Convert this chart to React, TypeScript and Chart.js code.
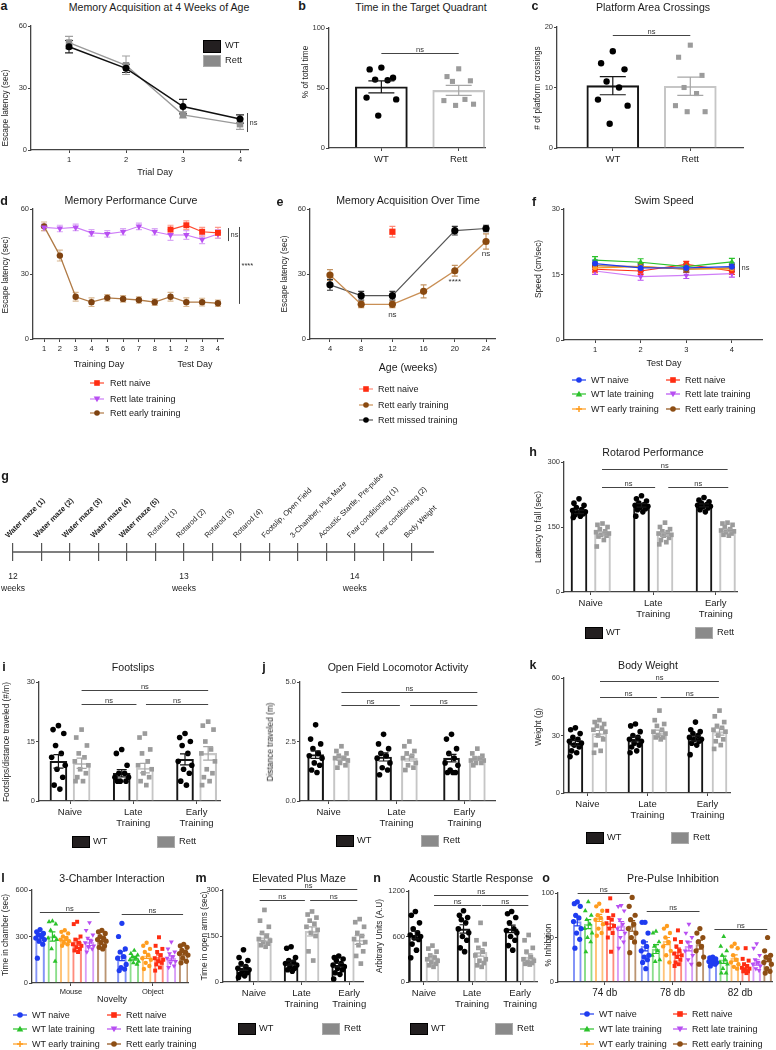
import React, { useEffect, useRef } from 'react';
import { Chart, registerables } from 'chart.js';

Chart.register(...registerables);

const FONT = '"Liberation Sans", Arial, Helvetica, sans-serif';

/* ======================= DATA ======================= */
// (a) Memory acquisition at 4 weeks
const aDays = [1, 2, 3, 4];
const aWT = [50, 39.5, 21, 15];
const aWTErr = [3, 2, 3.5, 2];
const aRett = [52, 41, 17, 12.5];
const aRettErr = [3, 4.5, 1.5, 2.5];

// (b) Time in target quadrant
const bLabels = ['WT', 'Rett'];
const bMeans = [51, 48];
const bSems = [5, 4.2];
const bWTPts = [67, 65.5, 58.5, 57, 56.5, 42, 40.5, 27];
const bRettPts = [66, 59.5, 56, 55.5, 40.5, 39.5, 36.5, 35.5];

// (c) Platform crossings
const cLabels = ['WT', 'Rett'];
const cMeans = [10.3, 10.2];
const cSems = [1.5, 1.5];
const cWTPts = [16, 14, 13, 11, 10, 8, 7, 4];
const cRettPts = [17, 15, 12, 10, 9, 7, 6, 6];

// (d) Memory performance curve
const dDays = [1, 2, 3, 4, 5, 6, 7, 8, 9, 10, 11, 12];
const dDayLabels = ['1', '2', '3', '4', '5', '6', '7', '8', '1', '2', '3', '4'];
const dNaive = [null, null, null, null, null, null, null, null, 50.5, 52.5, 49.5, 49];
const dNaiveErr = [0, 0, 0, 0, 0, 0, 0, 0, 2, 2, 2, 2.5];
const dLate = [51.5, 51, 51.5, 49, 48.5, 49.5, 52, 49.5, 48, 48, 46, 48.5];
const dLateErr = [1.5, 1.5, 1.5, 1.5, 1.5, 1.5, 1.5, 1.5, 2.5, 2, 2, 2];
const dEarly = [52, 38.5, 19.5, 17, 19, 18.5, 18, 17, 19.5, 17, 17, 16.5];
const dEarlyErr = [2, 2.5, 2, 2, 1.5, 1.5, 1.5, 1.5, 2, 2, 1.8, 1.5];

// (e) Memory acquisition over time
const eWeeks = [4, 8, 12, 16, 20, 24];
const eNaive = [null, null, 49.5, null, null, null];
const eNaiveErr = [0, 0, 2.5, 0, 0, 0];
const eEarly = [29.5, 16, 16, 22, 31.5, 45];
const eEarlyErr = [2.5, 1.5, 1.5, 3, 2.5, 3.5];
const eMissed = [25, 20, 20, null, 50, 51];
const eMissedErr = [2.5, 2, 2, 0, 2, 1.5];

// (f) Swim speed
const fDays = [1, 2, 3, 4];
const fWTNaive = [17.5, 16.5, 16.5, 16.8];
const fWTLate = [18.3, 17.8, 16.8, 17.9];
const fWTEarly = [16.5, 16.8, 16.3, 16.3];
const fRettNaive = [16.2, 15.8, 17.3, 15.8];
const fRettLate = [15.8, 14.5, 14.8, 15.2];
const fRettEarly = [17, 16.8, 16.2, 16.5];
const fErr = [0.8, 0.8, 0.7, 0.8];

// (g) Timeline
const gEvents = [
  'Water maze (1)', 'Water maze (2)', 'Water maze (3)', 'Water maze (4)', 'Water maze (5)',
  'Rotarod (1)', 'Rotarod (2)', 'Rotarod (3)', 'Rotarod (4)', 'Footslip, Open Field',
  '3-Chamber, Plus Maze', 'Acoustic Startle, Pre-pulse', 'Fear conditioning (1)',
  'Fear conditioning (2)', 'Body Weight',
];
const gWeekTicks = [0, 6, 12];
const gWeekLabels = [['12', 'weeks'], ['13', 'weeks'], ['14', 'weeks']];

// groups for WT/Rett bar panels
const trainGroups = [['Naive'], ['Late', 'Training'], ['Early', 'Training']];

// (h) Rotarod
const hWTMeans = [185, 200, 200];
const hWTSems = [4, 4, 3.5];
const hRettMeans = [135, 133, 142];
const hRettSems = [4, 4.5, 3];
const hWTPts = [
  [215, 205, 200, 195, 190, 188, 185, 183, 180, 178, 175, 172],
  [222, 215, 210, 205, 202, 200, 198, 195, 192, 190, 185, 175],
  [218, 212, 208, 205, 202, 200, 198, 196, 194, 190, 185],
];
const hRettPts = [
  [158, 155, 150, 145, 140, 138, 135, 132, 130, 128, 120, 105],
  [160, 150, 145, 140, 138, 135, 132, 130, 125, 120, 115, 110],
  [160, 158, 155, 150, 145, 142, 140, 138, 135, 132, 130],
];

// (i) Footslips
const iWTMeans = [10, 7, 10.5];
const iWTSems = [1.7, 0.9, 1.4];
const iRettMeans = [9.5, 8.3, 12];
const iRettSems = [1.3, 1.2, 1.7];
const iWTPts = [
  [19, 18, 17, 14, 12, 11, 9, 8, 6, 4, 3],
  [13, 12, 9, 7, 7, 6, 6, 5, 5, 5],
  [17, 16, 15, 14, 12, 10, 9, 8, 7, 5, 4],
];
const iRettPts = [
  [18, 16, 14, 12, 11, 10, 9, 8, 7, 6, 5, 5],
  [17, 16, 13, 12, 10, 9, 8, 7, 6, 5, 4],
  [20, 19, 18, 15, 13, 12, 10, 8, 7, 6, 5, 4],
];

// (j) Open field
const jWTMeans = [1.95, 1.85, 1.8];
const jWTSems = [0.16, 0.17, 0.16];
const jRettMeans = [1.8, 1.8, 1.78];
const jRettSems = [0.09, 0.12, 0.07];
const jWTPts = [
  [3.2, 2.6, 2.4, 2.2, 2.0, 1.9, 1.8, 1.6, 1.5, 1.3, 1.2],
  [2.8, 2.4, 2.2, 2.0, 1.9, 1.8, 1.6, 1.4, 1.3, 1.1],
  [2.8, 2.6, 2.2, 2.0, 1.8, 1.6, 1.5, 1.3, 1.2, 1.2, 1.2],
];
const jRettPts = [
  [2.3, 2.1, 2.0, 1.9, 1.8, 1.8, 1.7, 1.6, 1.5, 1.4],
  [2.5, 2.3, 2.1, 2.0, 1.9, 1.8, 1.6, 1.5, 1.4, 1.3],
  [2.2, 2.0, 1.9, 1.8, 1.8, 1.7, 1.7, 1.6, 1.6, 1.5],
];

// (k) Body weight
const kWTMeans = [26, 28, 28.5];
const kWTSems = [1.3, 1.3, 1.3];
const kRettMeans = [31, 31.5, 32];
const kRettSems = [1.6, 1.3, 1.8];
const kWTPts = [
  [34, 33, 31, 29, 28, 27, 26, 25, 24, 22, 21, 19],
  [36, 35, 32, 30, 29, 28, 27, 26, 25, 24, 22, 21],
  [37, 33, 32, 31, 30, 29, 28, 28, 27, 26, 25, 20],
];
const kRettPts = [
  [38, 37, 36, 35, 34, 33, 32, 30, 28, 25, 22, 21],
  [43, 38, 36, 35, 33, 32, 31, 30, 29, 29, 28],
  [43, 40, 37, 35, 34, 33, 32, 30, 28, 27, 25, 23],
];

// six-group series (l, o)
const sixNames = ['WT naive', 'WT late training', 'WT early training', 'Rett naive', 'Rett late training', 'Rett early training'];

// (l) 3-chamber: per series [Mouse, Object]
const lGroups = ['Mouse', 'Object'];
const lMeans = [[290, 175], [300, 160], [285, 175], [265, 165], [262, 160], [280, 192]];
const lSems = [[30, 30], [30, 12], [12, 17], [20, 17], [20, 15], [12, 12]];
const lPts = [
  [[345, 330, 320, 310, 300, 290, 280, 270, 250, 160], [385, 300, 220, 200, 170, 160, 120, 100, 90, 80]],
  [[400, 395, 380, 340, 300, 290, 280, 220, 140], [210, 190, 180, 170, 160, 150, 140, 130, 120]],
  [[340, 330, 320, 300, 290, 280, 270, 260, 250, 240], [260, 240, 220, 200, 180, 160, 150, 130, 110, 90]],
  [[395, 380, 300, 280, 260, 250, 240, 230, 220, 210, 200], [295, 240, 220, 200, 180, 160, 150, 140, 130, 120, 100, 80]],
  [[390, 340, 310, 290, 270, 260, 240, 230, 220, 200], [265, 220, 200, 190, 170, 160, 140, 130, 110, 100]],
  [[340, 330, 320, 300, 290, 280, 270, 260, 240, 230, 220], [250, 240, 230, 210, 200, 190, 180, 160, 140, 130]],
];

// (m) Elevated plus maze
const mWTMeans = [45, 62, 55];
const mWTSems = [7, 7, 6];
const mRettMeans = [145, 165, 137];
const mRettSems = [12, 15, 14];
const mWTPts = [
  [105, 80, 70, 60, 50, 45, 40, 35, 30, 25, 20, 15],
  [115, 110, 80, 70, 65, 60, 55, 50, 45, 40, 35],
  [85, 80, 75, 70, 60, 55, 50, 45, 40, 30, 25, 10],
];
const mRettPts = [
  [235, 200, 180, 160, 150, 140, 135, 130, 125, 120, 115],
  [230, 220, 210, 200, 190, 180, 170, 160, 150, 100, 70],
  [205, 195, 180, 160, 150, 140, 130, 120, 100, 85, 60],
];

// (n) Acoustic startle
const nWTMeans = [620, 700, 700];
const nWTSems = [50, 55, 50];
const nRettMeans = [320, 390, 330];
const nRettSems = [30, 50, 40];
const nWTPts = [
  [930, 880, 780, 700, 650, 620, 600, 580, 560, 500, 420, 320],
  [940, 880, 850, 820, 780, 700, 650, 600, 550, 450, 400],
  [930, 900, 850, 780, 700, 680, 650, 600, 550, 480, 420],
];
const nRettPts = [
  [480, 440, 400, 350, 320, 300, 280, 260, 240, 220, 200],
  [780, 550, 500, 450, 400, 350, 300, 280, 250, 220, 200],
  [620, 550, 450, 400, 330, 300, 280, 260, 250, 240, 230],
];

// (o) Pre-pulse inhibition: per series [74 db, 78 db, 82 db]
const oGroups = ['74 db', '78 db', '82 db'];
const oMeans = [[68, 40, 23], [65, 37, 25], [72, 46, 27], [66, 34, 17], [63, 40, 22], [63, 42, 26]];
const oSems = [[5, 5, 1.5], [5, 5, 4], [4, 4, 3.5], [5, 4, 2.5], [5, 5, 3], [6, 5, 3]];
const oPts = [
  [[90, 88, 85, 75, 72, 68, 60, 55, 48, 38], [67, 67, 55, 45, 40, 35, 30, 28, 25, 22, 15], [28, 27, 26, 25, 24, 23, 22, 21, 20, 18]],
  [[90, 80, 75, 70, 65, 60, 55, 50, 45, 34], [57, 55, 45, 40, 35, 30, 25, 23], [51, 40, 35, 30, 25, 22, 20, 15, 10, 10]],
  [[88, 85, 80, 75, 72, 70, 65, 60, 55, 52], [63, 60, 55, 50, 45, 40, 35, 30, 22], [43, 40, 38, 30, 25, 22, 20, 17, 15]],
  [[94, 80, 75, 72, 70, 66, 63, 60, 55, 50, 34], [58, 48, 45, 40, 35, 32, 30, 28, 25, 22, 20, 18], [38, 26, 24, 20, 18, 16, 15, 14, 12, 12, 10]],
  [[86, 85, 80, 70, 65, 60, 55, 50, 45, 38], [65, 55, 50, 45, 40, 35, 30, 25, 20], [43, 38, 30, 25, 22, 20, 18, 15, 13]],
  [[95, 85, 75, 70, 65, 60, 55, 50, 45, 33], [60, 55, 50, 45, 40, 35, 28, 20], [50, 35, 30, 28, 25, 22, 20, 15, 12, 10]],
];

/* ======================= STYLE ======================= */
const WTN_C = '#1f3cf0';
const WTL_C = '#2bc22b';
const WTE_C = '#ff9d1f';
const RN_C = '#ff2d12';
const RL_C = '#b84ff2';
const RE_C = '#8d4e14';
const SIX_COLORS = [WTN_C, WTL_C, WTE_C, RN_C, RL_C, RE_C];
const SIX_LIGHT = ['rgba(31,60,240,0.55)', 'rgba(43,194,43,0.55)', 'rgba(255,157,31,0.6)', 'rgba(255,45,18,0.55)', 'rgba(184,79,242,0.55)', 'rgba(141,78,20,0.6)'];
const SIX_STYLE = ['circle', 'triangle', 'circle', 'rect', 'triangle', 'circle'];
const SIX_ROT = [0, 0, 0, 0, 180, 0];
const SIX_R = [2.6, 2.8, 2.2, 2.8, 2.8, 2.6];
const SIX_KEY = ['circle', 'tri', 'plus', 'rect', 'triDown', 'circle'];

const JIT = [0, -0.75, 0.75, -0.4, 0.4, -0.95, 0.95, -0.2, 0.6, -0.6, 0.2, -0.85, 0.85, 0.1];

/* ======================= PLUGINS ======================= */
function drawErr(chart: any, before: boolean) {
  const { ctx } = chart;
  const ys = chart.scales.y;
  chart.data.datasets.forEach((ds: any, di: number) => {
    if (!ds.errs || !!ds.errBefore !== before) return;
    const meta = chart.getDatasetMeta(di);
    meta.data.forEach((el: any, i: number) => {
      const raw = ds.data[i];
      const v = raw && typeof raw === 'object' ? raw.y : raw;
      const e = ds.errs[i];
      if (v == null || !e) return;
      const px = el.x;
      const y1 = ys.getPixelForValue(v + e);
      const y2 = ys.getPixelForValue(v - e);
      const c = ds.capPx || 3;
      ctx.save();
      ctx.strokeStyle = ds.errColor || '#000';
      ctx.lineWidth = ds.errWidth || 1.1;
      ctx.beginPath();
      ctx.moveTo(px, y1); ctx.lineTo(px, y2);
      ctx.moveTo(px - c, y1); ctx.lineTo(px + c, y1);
      ctx.moveTo(px - c, y2); ctx.lineTo(px + c, y2);
      ctx.stroke();
      ctx.restore();
    });
  });
}
const errPlugin = {
  id: 'errbars',
  beforeDatasetsDraw(chart: any) { drawErr(chart, true); },
  afterDatasetsDraw(chart: any) { drawErr(chart, false); },
};

function marksPlugin(h: any[] = [], v: any[] = [], notes: any[] = [], fs = 7.5) {
  return {
    id: 'marks',
    afterDatasetsDraw(chart: any) {
      const { ctx } = chart;
      const xs = chart.scales.x;
      const ys = chart.scales.y;
      ctx.save();
      ctx.strokeStyle = '#444';
      ctx.fillStyle = '#333';
      ctx.lineWidth = 1;
      ctx.font = `${fs}px ${FONT}`;
      h.forEach((b) => {
        const X1 = xs.getPixelForValue(b.x1);
        const X2 = xs.getPixelForValue(b.x2);
        const Y = Math.round(ys.getPixelForValue(b.y)) + 0.5;
        ctx.beginPath(); ctx.moveTo(X1, Y); ctx.lineTo(X2, Y); ctx.stroke();
        ctx.textAlign = 'center'; ctx.textBaseline = 'alphabetic';
        ctx.fillText(b.t, (X1 + X2) / 2, Y - 2);
      });
      v.forEach((b) => {
        const X = Math.round(xs.getPixelForValue(b.x)) + 0.5;
        const Y1 = ys.getPixelForValue(b.y1);
        const Y2 = ys.getPixelForValue(b.y2);
        ctx.beginPath(); ctx.moveTo(X, Y1); ctx.lineTo(X, Y2); ctx.stroke();
        ctx.textAlign = 'left'; ctx.textBaseline = 'middle';
        ctx.fillText(b.t, X + 2, (Y1 + Y2) / 2);
      });
      notes.forEach((n) => {
        ctx.textAlign = 'center'; ctx.textBaseline = 'middle';
        ctx.fillText(n.t, xs.getPixelForValue(n.x), ys.getPixelForValue(n.y));
      });
      ctx.restore();
    },
  };
}

/* ======================= AXES ======================= */
function yAxis(min: number, max: number, ticks: number[], fmt?: (v: number) => string) {
  return {
    type: 'linear', min, max,
    afterBuildTicks: (s: any) => { s.ticks = ticks.map((v) => ({ value: v })); },
    ticks: { font: { family: FONT, size: 7.5 }, color: '#333', padding: 1, callback: (v: number) => (fmt ? fmt(v) : String(v)) },
    grid: { display: true, drawOnChartArea: false, drawTicks: true, tickLength: 3, color: '#444', lineWidth: 1 },
    border: { display: true, color: '#444', width: 1.3 },
  };
}
function xAxis(min: number, max: number, tickVals: number[], labels: any[], size = 7.5, pad = 2) {
  return {
    type: 'linear', min, max, offset: false,
    afterBuildTicks: (s: any) => { s.ticks = tickVals.map((v) => ({ value: v })); },
    ticks: { autoSkip: false, maxRotation: 0, minRotation: 0, font: { family: FONT, size, lineHeight: 1.25 }, color: '#222', padding: pad, callback: (_v: number, i: number) => labels[i] },
    grid: { display: true, offset: false, drawOnChartArea: false, drawTicks: true, tickLength: 3, color: '#444', lineWidth: 1 },
    border: { display: true, color: '#444', width: 1.3 },
  };
}

/* ======================= DATASET BUILDERS ======================= */
function lineDs(xs: number[], ys: any[], errs: number[], o: any) {
  return {
    type: 'line',
    data: xs.map((x, i) => ({ x, y: ys[i] })).filter((p) => !(o.dropNull && p.y == null)),
    errs: o.dropNull ? errs.filter((_e, i) => ys[i] != null) : errs,
    borderColor: o.line, backgroundColor: o.pt, pointBackgroundColor: o.pt, pointBorderColor: o.pt,
    borderWidth: o.lw ?? 1.4, pointStyle: o.style, pointRadius: o.r, pointRotation: o.rot || 0, pointBorderWidth: 0,
    errColor: o.err, capPx: o.cap ?? 3, errBefore: true, clip: false, spanGaps: !!o.span, tension: 0, order: o.order ?? 1,
  };
}

function barScatter(series: any[], th: number, ppu: number, cap: number) {
  const out: any[] = [];
  series.forEach((s) => {
    out.push({
      type: 'bar',
      data: s.means.map((m: number, g: number) => ({ x: g + s.off, y: m })),
      barThickness: th, grouped: false, backgroundColor: 'rgba(255,255,255,0)',
      borderColor: s.line, borderWidth: 1.4, borderSkipped: 'bottom',
      errs: s.sems, errColor: s.err, capPx: cap, errWidth: 1.2, order: 5,
    });
    out.push({
      type: 'scatter',
      data: s.pts.flatMap((arr: number[], g: number) => arr.map((v, i) => ({ x: g + s.off + (JIT[i % JIT.length] * th * (s.spread ?? 0.42)) / ppu, y: v }))),
      pointStyle: s.style, pointRadius: s.r, pointRotation: s.rot || 0,
      backgroundColor: s.pt, borderColor: s.pt, pointBorderWidth: 0, borderWidth: 0, showLine: false, order: 1, clip: false,
    });
  });
  return out;
}

function wtRett(wM: number[], wS: number[], wP: number[][], rM: number[], rS: number[], rP: number[][], off: number) {
  return [
    { means: wM, sems: wS, pts: wP, off: -off, line: '#161616', err: '#161616', pt: '#000', style: 'circle', r: 2.8 },
    { means: rM, sems: rS, pts: rP, off, line: '#c6c6c6', err: '#a6a6a6', pt: '#9b9b9b', style: 'rect', r: 3.3 },
  ];
}

function six(means: number[][], sems: number[][], pts: number[][][], step: number) {
  return means.map((m, k) => ({
    means: m, sems: sems[k], pts: pts[k], off: (k - 2.5) * step,
    line: SIX_LIGHT[k], err: SIX_COLORS[k], pt: SIX_COLORS[k], style: SIX_STYLE[k], rot: SIX_ROT[k], r: SIX_R[k], spread: 0.5,
  }));
}

/* ======================= CHART PANEL ======================= */
function ChartPanel(p: any) {
  const ref = useRef<HTMLCanvasElement>(null);
  const padL = p.padL ?? 40;
  const padR = p.padR ?? 40;
  const padT = p.padT ?? 14;
  const padB = p.padB ?? 32;
  const w = Math.round(p.x1 - p.x0 + padL + padR);
  const h = Math.round(p.yBot - p.yTop + padT + padB);
  useEffect(() => {
    const cfg = p.build((p.x1 - p.x0));
    cfg.scales.x.afterFit = (s: any) => { s.height = padB; };
    cfg.scales.y.afterFit = (s: any) => { s.width = padL; };
    const chart = new Chart(ref.current as HTMLCanvasElement, {
      type: cfg.type,
      data: { datasets: cfg.datasets },
      options: {
        responsive: false, maintainAspectRatio: false, animation: false, events: [],
        layout: { padding: { top: padT, right: padR, left: 0, bottom: 0 } },
        plugins: { legend: { display: false }, tooltip: { enabled: false }, title: { display: false } },
        scales: cfg.scales,
      },
      plugins: cfg.plugins,
    } as any);
    return () => chart.destroy();
  }, []);
  return (
    <canvas ref={ref} width={w} height={h}
      style={{ position: 'absolute', left: p.x0 - padL, top: p.yTop - padT, width: w, height: h }} />
  );
}

function TimelinePanel() {
  const ref = useRef<HTMLCanvasElement>(null);
  const W = 520, H = 128, TOP = 463;
  useEffect(() => {
    const chart = new Chart(ref.current as HTMLCanvasElement, {
      type: 'line',
      data: { datasets: [{ data: [{ x: 0, y: 0 }, { x: 14.78, y: 0 }], borderColor: '#555', borderWidth: 1.4, pointRadius: 0, clip: false }] },
      options: {
        responsive: false, maintainAspectRatio: false, animation: false, events: [],
        layout: { padding: { top: 2, left: 13, right: W - 434, bottom: 0 } },
        plugins: { legend: { display: false }, tooltip: { enabled: false } },
        scales: {
          x: {
            type: 'linear', position: 'top', min: 0, max: 14.78, offset: false,
            afterBuildTicks: (s: any) => { s.ticks = gEvents.map((_e, i) => ({ value: i })); },
            afterFit: (s: any) => { s.height = 78; },
            ticks: {
              autoSkip: false, minRotation: 45, maxRotation: 45, padding: 3, color: '#222',
              callback: (_v: number, i: number) => gEvents[i],
              font: (c: any) => ({ family: FONT, size: 7.5, weight: c.index < 5 ? 'bold' : 'normal' }),
            },
            grid: { display: true, drawOnChartArea: true, drawTicks: false, color: '#555', lineWidth: 1.2 },
            border: { display: false },
          },
          x2: {
            type: 'linear', axis: 'x', position: 'bottom', min: 0, max: 14.78, offset: false,
            afterBuildTicks: (s: any) => { s.ticks = gWeekTicks.map((v) => ({ value: v })); },
            afterFit: (s: any) => { s.height = 30; },
            ticks: { autoSkip: false, maxRotation: 0, minRotation: 0, padding: 1, color: '#222', font: { family: FONT, size: 8.5, lineHeight: 1.45 }, callback: (_v: number, i: number) => gWeekLabels[i] },
            grid: { display: false }, border: { display: false },
          },
          y: { type: 'linear', min: -1, max: 1, display: false },
        },
      },
    } as any);
    return () => chart.destroy();
  }, []);
  return <canvas ref={ref} width={W} height={H} style={{ position: 'absolute', left: 0, top: TOP, width: W, height: H }} />;
}

/* ======================= PANEL SPECS ======================= */
const panels: any[] = [
  // (a)
  {
    x0: 31, x1: 248, yTop: 26, yBot: 150, padT: 10,
    build: () => ({
      type: 'line',
      datasets: [
        lineDs(aDays, aWT, aWTErr, { line: '#111', pt: '#000', err: '#222', style: 'circle', r: 3.5, cap: 4, lw: 1.6, order: 0 }),
        lineDs(aDays, aRett, aRettErr, { line: '#9a9a9a', pt: '#8f8f8f', err: '#a0a0a0', style: 'rect', r: 4.6, cap: 4, lw: 1.4, order: 1 }),
      ],
      scales: { x: xAxis(0.333, 4.14, aDays, aDays.map(String)), y: yAxis(0, 60, [0, 30, 60]) },
      plugins: [errPlugin, marksPlugin([], [{ x: 4.13, y1: 17.9, y2: 8.7, t: 'ns' }])],
    }),
  },
  // (b)
  {
    x0: 329, x1: 485, yTop: 28, yBot: 148, padT: 10,
    build: (pw: number) => {
      const min = -0.677, max = 1.34, ppu = pw / (max - min);
      return {
        type: 'bar',
        datasets: barScatter([
          { means: [bMeans[0]], sems: [bSems[0]], pts: [bWTPts], off: 0, line: '#161616', err: '#161616', pt: '#000', style: 'circle', r: 3.2, spread: 0.3 },
          { means: [bMeans[1]], sems: [bSems[1]], pts: [bRettPts], off: 1, line: '#c6c6c6', err: '#a6a6a6', pt: '#9b9b9b', style: 'rect', r: 3.6, spread: 0.3 },
        ], 52, ppu, 13),
        scales: { x: xAxis(min, max, [0, 1], bLabels, 9.5), y: yAxis(0, 100, [0, 50, 100]) },
        plugins: [errPlugin, marksPlugin([{ x1: 0, x2: 1, y: 79, t: 'ns' }])],
      };
    },
  },
  // (c)
  {
    x0: 557, x1: 743, yTop: 27, yBot: 148, padT: 10,
    build: (pw: number) => {
      const min = -0.72, max = 1.68, ppu = pw / (max - min);
      return {
        type: 'bar',
        datasets: barScatter([
          { means: [cMeans[0]], sems: [cSems[0]], pts: [cWTPts], off: 0, line: '#161616', err: '#161616', pt: '#000', style: 'circle', r: 3.2, spread: 0.3 },
          { means: [cMeans[1]], sems: [cSems[1]], pts: [cRettPts], off: 1, line: '#c6c6c6', err: '#a6a6a6', pt: '#9b9b9b', style: 'rect', r: 3.6, spread: 0.3 },
        ], 52, ppu, 13),
        scales: { x: xAxis(min, max, [0, 1], cLabels, 9.5), y: yAxis(0, 20, [0, 10, 20]) },
        plugins: [errPlugin, marksPlugin([{ x1: 0, x2: 1, y: 18.7, t: 'ns' }])],
      };
    },
  },
  // (d)
  {
    x0: 33, x1: 223, yTop: 209, yBot: 339, padT: 10,
    build: () => ({
      type: 'line',
      datasets: [
        lineDs(dDays, dNaive, dNaiveErr, { line: '#ff4a30', pt: '#ff2d12', err: '#ff9a8a', style: 'rect', r: 4.2, cap: 3, lw: 1.2, dropNull: true, order: 0 }),
        lineDs(dDays, dLate, dLateErr, { line: '#cd7cf7', pt: '#b84ff2', err: '#d9a8f5', style: 'triangle', rot: 180, r: 3.8, cap: 3, lw: 1.1, order: 1 }),
        lineDs(dDays, dEarly, dEarlyErr, { line: '#b07a45', pt: '#7e4210', err: '#d8b690', style: 'circle', r: 3.2, cap: 3, lw: 1.3, order: 2 }),
      ],
      scales: { x: xAxis(0.3, 12.32, dDays, dDayLabels), y: yAxis(0, 60, [0, 30, 60]) },
      plugins: [errPlugin, marksPlugin([], [{ x: 12.64, y1: 51.2, y2: 45.2, t: 'ns' }, { x: 13.34, y1: 51.7, y2: 16.2, t: '****' }])],
    }),
  },
  // (e)
  {
    x0: 310, x1: 495, yTop: 209, yBot: 339, padT: 10,
    build: () => ({
      type: 'line',
      datasets: [
        lineDs(eWeeks, eNaive, eNaiveErr, { line: '#ff2d12', pt: '#ff2d12', err: '#ff8a78', style: 'rect', r: 4.4, cap: 3, dropNull: true, order: 0 }),
        lineDs(eWeeks, eEarly, eEarlyErr, { line: '#c98f55', pt: '#8a4a10', err: '#c39260', style: 'circle', r: 3.6, cap: 3, lw: 1.3, order: 1 }),
        lineDs(eWeeks, eMissed, eMissedErr, { line: '#555', pt: '#000', err: '#333', style: 'circle', r: 3.6, cap: 3, lw: 1.2, dropNull: true, span: true, order: 2 }),
      ],
      scales: { x: xAxis(1.44, 25.15, eWeeks, eWeeks.map(String)), y: yAxis(0, 60, [0, 30, 60]) },
      plugins: [errPlugin, marksPlugin([], [], [{ x: 12, y: 11, t: 'ns' }, { x: 20, y: 26.3, t: '****' }, { x: 24, y: 39.2, t: 'ns' }], 8)],
    }),
  },
  // (f)
  {
    x0: 564, x1: 762, yTop: 209, yBot: 340, padT: 10, padR: 14,
    build: () => ({
      type: 'line',
      datasets: [
        lineDs(fDays, fWTNaive, fErr, { line: WTN_C, pt: WTN_C, err: WTN_C, style: 'circle', r: 3, cap: 3, lw: 1.2 }),
        lineDs(fDays, fWTLate, fErr, { line: WTL_C, pt: WTL_C, err: WTL_C, style: 'triangle', r: 3.4, cap: 3, lw: 1.2 }),
        lineDs(fDays, fWTEarly, fErr, { line: WTE_C, pt: WTE_C, err: WTE_C, style: 'circle', r: 2.4, cap: 3, lw: 1.2 }),
        lineDs(fDays, fRettNaive, fErr, { line: RN_C, pt: RN_C, err: RN_C, style: 'rect', r: 3.6, cap: 3, lw: 1.2 }),
        lineDs(fDays, fRettLate, fErr, { line: '#cf7df7', pt: RL_C, err: RL_C, style: 'triangle', rot: 180, r: 3.4, cap: 3, lw: 1.2 }),
        lineDs(fDays, fRettEarly, fErr, { line: RE_C, pt: RE_C, err: RE_C, style: 'circle', r: 3, cap: 3, lw: 1.2 }),
      ],
      scales: { x: xAxis(0.32, 4.66, fDays, fDays.map(String)), y: yAxis(0, 30, [0, 15, 30]) },
      plugins: [errPlugin, marksPlugin([], [{ x: 4.15, y1: 18.8, y2: 14.4, t: 'ns' }])],
    }),
  },
  // (h)
  {
    x0: 564, x1: 737, yTop: 462, yBot: 592,
    build: (pw: number) => {
      const min = -0.428, max = 2.34, ppu = pw / (max - min);
      return {
        type: 'bar',
        datasets: barScatter(wtRett(hWTMeans, hWTSems, hWTPts, hRettMeans, hRettSems, hRettPts, 0.188), 16, ppu, 5),
        scales: { x: xAxis(min, max, [0, 1, 2], trainGroups, 9.5), y: yAxis(0, 300, [0, 150, 300]) },
        plugins: [errPlugin, marksPlugin([
          { x1: 0.18, x2: 2.19, y: 284, t: 'ns' },
          { x1: 0.18, x2: 1.03, y: 242, t: 'ns' },
          { x1: 1.24, x2: 2.2, y: 242, t: 'ns' },
        ])],
      };
    },
  },
  // (i)
  {
    x0: 39, x1: 220, yTop: 682, yBot: 801,
    build: (pw: number) => {
      const min = -0.49, max = 2.37, ppu = pw / (max - min);
      return {
        type: 'bar',
        datasets: barScatter(wtRett(iWTMeans, iWTSems, iWTPts, iRettMeans, iRettSems, iRettPts, 0.183), 17, ppu, 5),
        scales: { x: xAxis(min, max, [0, 1, 2], trainGroups, 9.5), y: yAxis(0, 30, [0, 15, 30]) },
        plugins: [errPlugin, marksPlugin([
          { x1: 0.183, x2: 2.183, y: 28, t: 'ns' },
          { x1: 0.183, x2: 1.05, y: 24.5, t: 'ns' },
          { x1: 1.2, x2: 2.183, y: 24.5, t: 'ns' },
        ])],
      };
    },
  },
  // (j)
  {
    x0: 300, x1: 495, yTop: 682, yBot: 801,
    build: (pw: number) => {
      const min = -0.42, max = 2.45, ppu = pw / (max - min);
      return {
        type: 'bar',
        datasets: barScatter(wtRett(jWTMeans, jWTSems, jWTPts, jRettMeans, jRettSems, jRettPts, 0.19), 16, ppu, 5),
        scales: { x: xAxis(min, max, [0, 1, 2], trainGroups, 9.5), y: yAxis(0, 5, [0, 2.5, 5], (v) => v.toFixed(1)) },
        plugins: [errPlugin, marksPlugin([
          { x1: 0.19, x2: 2.19, y: 4.6, t: 'ns' },
          { x1: 0.19, x2: 1.05, y: 4.05, t: 'ns' },
          { x1: 1.2, x2: 2.19, y: 4.05, t: 'ns' },
        ])],
      };
    },
  },
  // (k)
  {
    x0: 564, x1: 730, yTop: 678, yBot: 793,
    build: (pw: number) => {
      const min = -0.39, max = 2.375, ppu = pw / (max - min);
      return {
        type: 'bar',
        datasets: barScatter(wtRett(kWTMeans, kWTSems, kWTPts, kRettMeans, kRettSems, kRettPts, 0.2), 15, ppu, 5),
        scales: { x: xAxis(min, max, [0, 1, 2], trainGroups, 9.5), y: yAxis(0, 60, [0, 30, 60]) },
        plugins: [errPlugin, marksPlugin([
          { x1: 0.21, x2: 2.19, y: 58.5, t: 'ns' },
          { x1: 0.21, x2: 1.16, y: 50.2, t: 'ns' },
          { x1: 1.22, x2: 2.19, y: 50.2, t: 'ns' },
        ])],
      };
    },
  },
  // (l)
  {
    x0: 32, x1: 188, yTop: 890, yBot: 983, padB: 20,
    build: (pw: number) => {
      const min = -0.476, max = 1.43, ppu = pw / (max - min);
      return {
        type: 'bar',
        datasets: barScatter(six(lMeans, lSems, lPts, 0.151), 9, ppu, 3),
        scales: { x: xAxis(min, max, [0, 1], lGroups, 7.5, 1), y: yAxis(0, 600, [0, 300, 600]) },
        plugins: [errPlugin, marksPlugin([
          { x1: -0.38, x2: 0.35, y: 458, t: 'ns' },
          { x1: 0.62, x2: 1.37, y: 445, t: 'ns' },
        ])],
      };
    },
  },
  // (m)
  {
    x0: 223, x1: 363, yTop: 890, yBot: 982,
    build: (pw: number) => {
      const min = -0.65, max = 2.29, ppu = pw / (max - min);
      return {
        type: 'bar',
        datasets: barScatter(wtRett(mWTMeans, mWTSems, mWTPts, mRettMeans, mRettSems, mRettPts, 0.22), 14, ppu, 5),
        scales: { x: xAxis(min, max, [0, 1, 2], trainGroups, 9.5), y: yAxis(0, 300, [0, 150, 300]) },
        plugins: [errPlugin, marksPlugin([
          { x1: 0.12, x2: 2.17, y: 302, t: 'ns' },
          { x1: 0.12, x2: 1.07, y: 269, t: 'ns' },
          { x1: 1.18, x2: 2.17, y: 269, t: 'ns' },
        ])],
      };
    },
  },
  // (n)
  {
    x0: 409, x1: 537, yTop: 891, yBot: 982,
    build: (pw: number) => {
      const min = -0.31, max = 2.35, ppu = pw / (max - min);
      return {
        type: 'bar',
        datasets: barScatter(wtRett(nWTMeans, nWTSems, nWTPts, nRettMeans, nRettSems, nRettPts, 0.177), 13, ppu, 4),
        scales: { x: xAxis(min, max, [0, 1, 2], trainGroups, 9.5), y: yAxis(0, 1200, [0, 600, 1200]) },
        plugins: [errPlugin, marksPlugin([
          { x1: 0.21, x2: 2.17, y: 1147, t: 'ns' },
          { x1: 0.21, x2: 1.19, y: 1015, t: 'ns' },
          { x1: 1.21, x2: 2.17, y: 1015, t: 'ns' },
        ])],
      };
    },
  },
  // (o)
  {
    x0: 558, x1: 773, yTop: 893, yBot: 982, padR: 3,
    build: (pw: number) => {
      const min = -0.69, max = 2.47, ppu = pw / (max - min);
      return {
        type: 'bar',
        datasets: barScatter(six(oMeans, oSems, oPts, 0.162), 8, ppu, 3),
        scales: { x: xAxis(min, max, [0, 1, 2], oGroups, 10), y: yAxis(0, 100, [0, 50, 100]) },
        plugins: [errPlugin, marksPlugin([
          { x1: -0.4, x2: 0.37, y: 100, t: 'ns' },
          { x1: 0.62, x2: 1.4, y: 80, t: 'ns' },
          { x1: 1.62, x2: 2.4, y: 60, t: 'ns' },
        ])],
      };
    },
  },
];

/* ======================= HTML TEXT / LEGENDS ======================= */
function Txt({ x, y, t, s = 9, b = false, r = false, a = 'c', c = '#1a1a1a' }: any) {
  const tr = a === 'c' ? 'translate(-50%,-50%)' : a === 'l' ? 'translate(0,-50%)' : 'translate(-100%,-50%)';
  return (
    <div style={{ position: 'absolute', left: x, top: y, transform: tr + (r ? ' rotate(-90deg)' : ''), fontSize: s, fontWeight: b ? 'bold' : 'normal', whiteSpace: 'nowrap', lineHeight: 1, color: c }}>
      {t}
    </div>
  );
}

function Mk({ x, y, color, shape, line }: any) {
  const cx = 8, cy = 5;
  let s: any = null;
  if (shape === 'circle') s = <circle cx={cx} cy={cy} r={2.8} fill={color} />;
  else if (shape === 'rect') s = <rect x={cx - 2.8} y={cy - 2.8} width={5.6} height={5.6} fill={color} />;
  else if (shape === 'tri') s = <polygon points={`${cx},${cy - 3.3} ${cx + 3.3},${cy + 2.6} ${cx - 3.3},${cy + 2.6}`} fill={color} />;
  else if (shape === 'triDown') s = <polygon points={`${cx},${cy + 3.3} ${cx + 3.3},${cy - 2.6} ${cx - 3.3},${cy - 2.6}`} fill={color} />;
  else if (shape === 'plus') s = <g stroke={color} strokeWidth={1.5}><line x1={cx - 3} y1={cy} x2={cx + 3} y2={cy} /><line x1={cx} y1={cy - 3} x2={cx} y2={cy + 3} /></g>;
  return (
    <svg width={16} height={10} style={{ position: 'absolute', left: x - 8, top: y - 5 }}>
      <line x1={1} y1={cy} x2={15} y2={cy} stroke={line || color} strokeWidth={1.2} />
      {s}
    </svg>
  );
}

function BoxKey({ x, y, w = 18, h = 12, dark, t, tx }: any) {
  return (
    <>
      <div style={{ position: 'absolute', left: x, top: y - h / 2, width: w - 2, height: h - 2, background: dark ? '#231f20' : '#8a8a8a', border: `1px solid ${dark ? '#000' : '#aaa'}` }} />
      <Txt x={tx} y={y} t={t} s={9.3} a="l" />
    </>
  );
}

function WtRettKey({ y, wx, rx }: any) {
  return (
    <>
      <BoxKey x={wx} y={y} dark t="WT" tx={wx + 21} />
      <BoxKey x={rx} y={y} t="Rett" tx={rx + 22} />
    </>
  );
}

function SixKey({ c1, c2, rows }: any) {
  return (
    <>
      {sixNames.map((n, k) => {
        const col = k < 3 ? c1 : c2;
        const yy = rows[k % 3];
        return (
          <React.Fragment key={n}>
            <Mk x={col} y={yy} color={SIX_COLORS[k]} shape={SIX_KEY[k]} />
            <Txt x={col + 12} y={yy} t={n} s={9} a="l" />
          </React.Fragment>
        );
      })}
    </>
  );
}

const letters = [
  ['a', 4, 6], ['b', 302, 6], ['c', 535, 6], ['d', 4, 201], ['e', 280, 202], ['f', 534, 202], ['g', 5, 476],
  ['h', 533, 452], ['i', 4, 667], ['j', 264, 667], ['k', 533, 665], ['l', 3, 878], ['m', 201, 878], ['n', 377, 878], ['o', 546, 878],
];
const titles = [
  ['Memory Acquisition at 4 Weeks of Age', 159, 7], ['Time in the Target Quadrant', 421, 7], ['Platform Area Crossings', 653, 7],
  ['Memory Performance Curve', 131, 200], ['Memory Acquisition Over Time', 408, 200], ['Swim Speed', 664, 200],
  ['Rotarod Performance', 653, 452], ['Footslips', 133, 667], ['Open Field Locomotor Activity', 398, 667], ['Body Weight', 648, 665],
  ['3-Chamber Interaction', 112, 878], ['Elevated Plus Maze', 299, 878], ['Acoustic Startle Response', 471, 878], ['Pre-Pulse Inhibition', 673, 878],
];
const yTitles = [
  ['Escape latency (sec)', 5, 108], ['% of total time', 305, 72], ['# of platform crossings', 537, 88],
  ['Escape latency (sec)', 5, 275], ['Escape latency (sec)', 284, 274], ['Speed (cm/sec)', 538, 269],
  ['Latency to fall (sec)', 538, 527], ['Footslips/distance traveled (#/m)', 6, 742], ['Distance traveled (m)', 270, 742],
  ['Weight (g)', 538, 727], ['Time in chamber (sec)', 5, 935], ['Time in open arms (sec)', 204, 936],
  ['Arbitrary Units (A.U)', 379, 936], ['% Inhibition', 548, 945],
];
const xTitles = [
  ['Trial Day', 155, 172, 9], ['Training Day', 99, 364, 9], ['Test Day', 195, 364, 9], ['Age (weeks)', 408, 367, 10.5],
  ['Test Day', 664, 363, 9], ['Novelty', 112, 999, 9],
];

export default function App() {
  return (
    <div style={{ position: 'absolute', left: 0, top: 0, width: 776, height: 1050, background: '#fff', overflow: 'hidden', fontFamily: FONT, color: '#1a1a1a' }}>
      {panels.map((p, i) => <ChartPanel key={i} {...p} />)}
      <TimelinePanel />

      {letters.map(([t, x, y]: any) => <Txt key={'L' + t} x={x} y={y} t={t} s={12.5} b />)}
      {titles.map(([t, x, y]: any) => <Txt key={'T' + t + x} x={x} y={y} t={t} s={10.6} />)}
      {yTitles.map(([t, x, y]: any) => <Txt key={'Y' + t + x + y} x={x} y={y} t={t} s={8.3} r />)}
      {xTitles.map(([t, x, y, s]: any) => <Txt key={'X' + t + x} x={x} y={y} t={t} s={s} />)}

      {/* legend a */}
      <BoxKey x={203} y={46} w={18} h={13} dark t="WT" tx={225} />
      <BoxKey x={203} y={61} w={18} h={12} t="Rett" tx={225} />

      {/* legend d */}
      <Mk x={97} y={383} color="#ff2d12" line="#ff4a30" shape="rect" />
      <Txt x={110} y={383} t="Rett naive" s={9} a="l" />
      <Mk x={97} y={399} color={RL_C} line="#cd7cf7" shape="triDown" />
      <Txt x={110} y={399} t="Rett late training" s={9} a="l" />
      <Mk x={97} y={413} color="#7e4210" line="#b07a45" shape="circle" />
      <Txt x={110} y={413} t="Rett early training" s={9} a="l" />

      {/* legend e */}
      <Mk x={366} y={389} color="#ff2d12" line="#ff8a78" shape="rect" />
      <Txt x={378} y={389} t="Rett naive" s={9} a="l" />
      <Mk x={366} y={405} color="#8a4a10" line="#c98f55" shape="circle" />
      <Txt x={378} y={405} t="Rett early training" s={9} a="l" />
      <Mk x={366} y={420} color="#000" line="#555" shape="circle" />
      <Txt x={378} y={420} t="Rett missed training" s={9} a="l" />

      {/* legend f */}
      <SixKey c1={579} c2={673} rows={[380, 394, 409]} />

      {/* WT / Rett box legends */}
      <WtRettKey y={633} wx={585} rx={695} />
      <WtRettKey y={842} wx={72} rx={157} />
      <WtRettKey y={841} wx={336} rx={421} />
      <WtRettKey y={838} wx={586} rx={671} />
      <WtRettKey y={1029} wx={238} rx={322} />
      <WtRettKey y={1029} wx={410} rx={495} />

      {/* legend l, o */}
      <SixKey c1={20} c2={114} rows={[1015, 1029, 1044]} />
      <SixKey c1={587} c2={680} rows={[1014, 1029, 1044]} />
    </div>
  );
}
